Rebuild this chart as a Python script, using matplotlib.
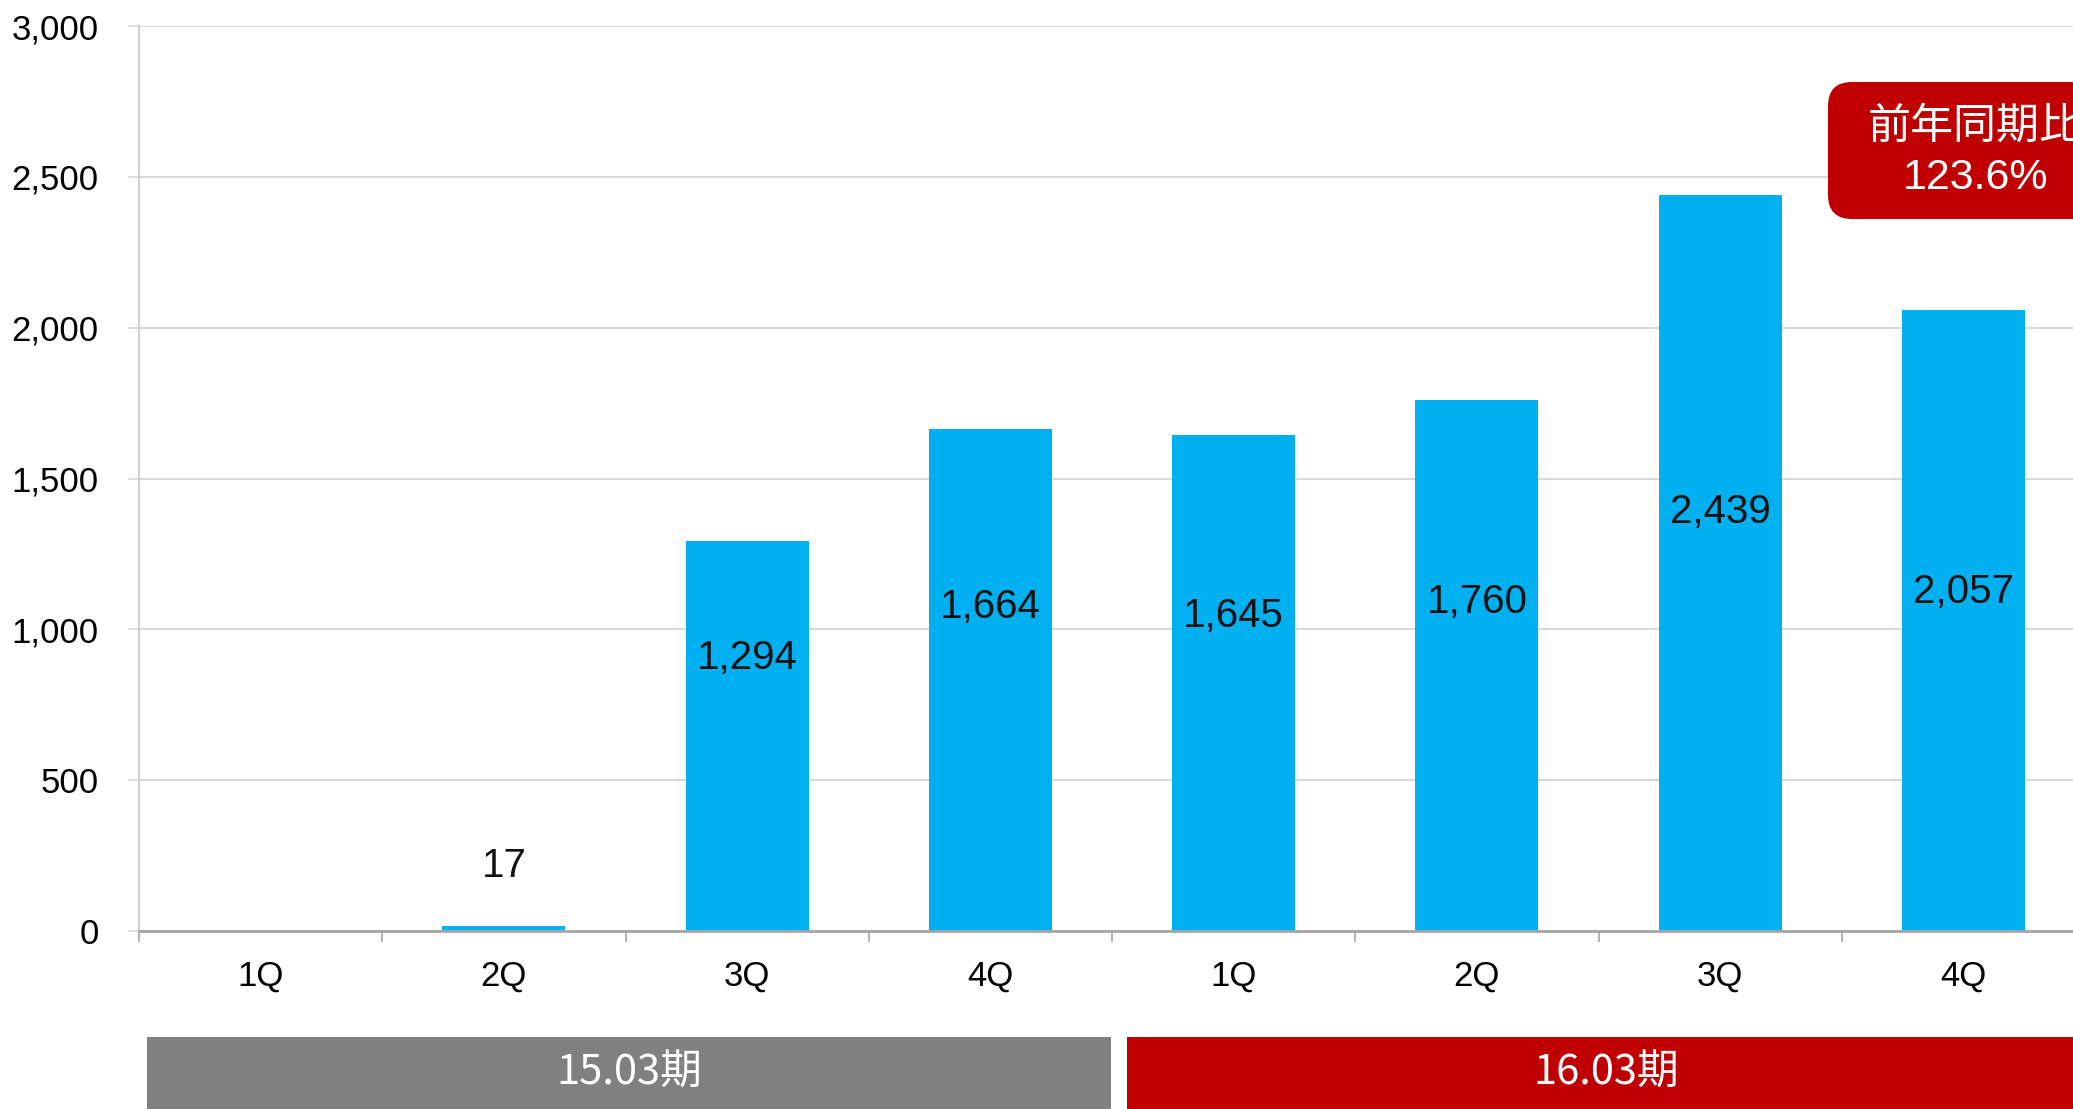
import numpy as np
import matplotlib.pyplot as plt
from matplotlib.patches import Rectangle, FancyBboxPatch
from matplotlib.transforms import blended_transform_factory, IdentityTransform
from matplotlib.ticker import FuncFormatter

plt.rcParams['font.family'] = ['Liberation Sans', 'Noto Sans CJK JP', 'DejaVu Sans']

# quarterly values
quarters = ['1Q', '2Q', '3Q', '4Q', '1Q', '2Q', '3Q', '4Q']
values = [0, 17, 1294, 1664, 1645, 1760, 2439, 2057]
labels = ['', '17', '1,294', '1,664', '1,645', '1,760', '2,439', '2,057']
label_y = [0, 215, 905, 1075, 1045, 1090, 1390, 1125]

periods = ['15.03期', '16.03期']
yoy_text = '前年同期比\n123.6%'

bar_color = '#00B0F0'
red = '#C00000'
gray = '#808080'

W, H = 2073, 1109
fig = plt.figure(figsize=(W / 100, H / 100), dpi=100)
ax = fig.add_axes([139 / W, 178 / H, 1946 / W, 905 / H])

x = np.arange(len(values)) + 0.5
ax.bar(x, values, width=0.506, color=bar_color, zorder=3)

for xi, lab, ly in zip(x, labels, label_y):
    if lab:
        ax.text(xi, ly, lab, ha='center', va='center', fontsize=29, color='#111111', zorder=4)

ax.set_xlim(0, 8)
ax.set_ylim(0, 3000)
ax.set_yticks(np.arange(0, 3001, 500))
ax.yaxis.set_major_formatter(FuncFormatter(lambda v, p: f'{int(v):,}'))
ax.grid(axis='y', color='#D9D9D9', lw=1.5, zorder=0)

ax.set_xticks(x)
ax.set_xticklabels(quarters)
ax.set_xticks(np.arange(0, 9), minor=True)
ax.tick_params(axis='x', which='major', length=0, pad=21, labelsize=25)
ax.tick_params(axis='x', which='minor', length=8, width=1.2, color='#A6A6A6', direction='out')
ax.tick_params(axis='y', length=8, width=1.2, color='#D9D9D9', pad=21, labelsize=25)

for s in ['top', 'right']:
    ax.spines[s].set_visible(False)
ax.spines['left'].set_color('#D0D0D0')
ax.spines['left'].set_linewidth(1.5)
ax.spines['bottom'].set_color('#A6A6A6')
ax.spines['bottom'].set_linewidth(2)
ax.spines['bottom'].set_zorder(5)

# fiscal period bands under the axis
trans = blended_transform_factory(ax.transData, fig.transFigure)
band_top = (H - 1037) / H
bands = [(0.033, 3.995, gray), (4.06, 8.0, red)]
for (x0, x1, c), name in zip(bands, periods):
    fig.add_artist(Rectangle((x0, 0), x1 - x0, band_top, transform=trans,
                             facecolor=c, edgecolor='none', clip_on=False))
    fig.text((x0 + x1) / 2, band_top / 2, name, transform=trans, ha='center', va='center',
             fontsize=30, color='white', family=['Noto Sans CJK JP'])

# year-on-year callout (runs off the right edge, like the last category)
box = FancyBboxPatch((1828, H - 219), 294, 137,
                     boxstyle='round,pad=0,rounding_size=24',
                     transform=IdentityTransform(), facecolor=red, edgecolor='none')
fig.add_artist(box)
fig.text(1975 / W, 1 - 153 / H, yoy_text, ha='center', va='center', fontsize=31,
         color='white', linespacing=1.32, family=['Liberation Sans', 'Noto Sans CJK JP'])

fig.savefig('out.png', dpi=100)
